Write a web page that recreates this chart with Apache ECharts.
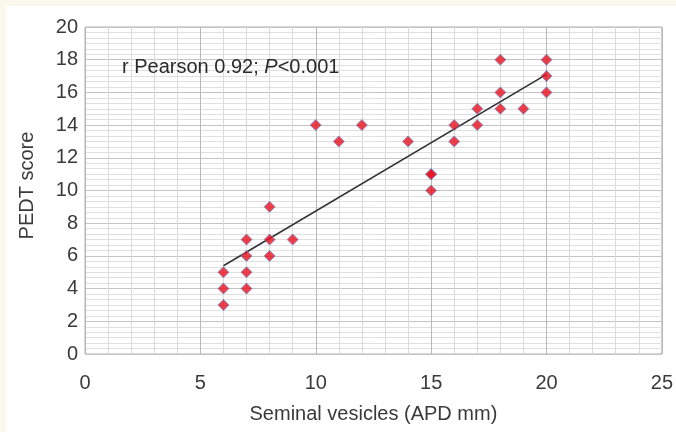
<!DOCTYPE html>
<html>
<head>
<meta charset="utf-8">
<script src="https://cdn.jsdelivr.net/npm/echarts@6/dist/echarts.min.js"></script>
<style>
html,body{margin:0;padding:0;width:676px;height:432px;overflow:hidden;background:#faf8ec;}
#c{position:absolute;left:6px;top:6px;width:670px;height:426px;background:#ffffff;}
</style>
</head>
<body>
<div id="c"></div>
<script>
var xValues = [6, 6, 6, 7, 7, 7, 7, 8, 8, 8, 9, 10, 11, 12, 14, 15, 15, 15, 16, 16, 17, 17, 18, 18, 18, 19, 20, 20, 20];
var yValues = [5, 4, 3, 7, 6, 5, 4, 9, 7, 6, 7, 14, 13, 14, 13, 11, 11, 10, 14, 13, 15, 14, 18, 16, 15, 15, 18, 17, 16];
var trendX = [6, 20];
var trendY = [5.4, 17.1];
var xTitle = 'Seminal vesicles (APD mm)';
var yTitle = 'PEDT score';

var pts = xValues.map(function (x, i) { return [x, yValues[i]]; });
var trend = trendX.map(function (x, i) { return [x, trendY[i]]; });

var chart = echarts.init(document.getElementById('c'), null, {renderer: 'canvas'});
var font = 'Liberation Sans, Arial, sans-serif';
chart.setOption({
  animation: false,
  grid: {left: 79, right: 10, top: 21, bottom: 78, show: true, borderColor: '#b0b0b0', borderWidth: 1},
  xAxis: {
    type: 'value', min: 0, max: 25, interval: 5,
    name: xTitle, nameLocation: 'middle', nameGap: 50,
    nameTextStyle: {fontFamily: font, fontSize: 20, color: '#3a3a3a'},
    axisLine: {show: false}, axisTick: {show: false},
    axisLabel: {fontFamily: font, fontSize: 20, color: '#3a3a3a', margin: 19},
    splitLine: {show: true, lineStyle: {color: '#b8b8b8', width: 1}},
    minorTick: {show: false, splitNumber: 5},
    minorSplitLine: {show: true, lineStyle: {color: '#dadada', width: 1}}
  },
  yAxis: {
    type: 'value', min: 0, max: 20, interval: 2,
    name: yTitle, nameLocation: 'middle', nameGap: 48, nameRotate: 90,
    nameTextStyle: {fontFamily: font, fontSize: 20, color: '#3a3a3a', padding: [0, 0, 0, 10]},
    axisLine: {show: false}, axisTick: {show: false},
    axisLabel: {fontFamily: font, fontSize: 20, color: '#3a3a3a', margin: 7},
    splitLine: {show: true, lineStyle: {color: '#c4c4c4', width: 1}},
    minorTick: {show: false, splitNumber: 6},
    minorSplitLine: {show: true, lineStyle: {color: '#e0e0e0', width: 1}}
  },
  series: [
    {
      type: 'line', data: trend, symbol: 'none', z: 2,
      lineStyle: {color: '#333333', width: 1.6}
    },
    {
      type: 'scatter', data: pts, symbol: 'diamond', symbolSize: 11, z: 3,
      itemStyle: {color: '#e8101e', borderColor: '#7888c0', borderWidth: 1}
    }
  ],
  graphic: [{
    type: 'text', left: 116, top: 51, z: 100,
    style: {
      text: '{n|r Pearson 0.92; }{i|P}{n|<0.001}',
      rich: {
        n: {fontFamily: font, fontSize: 20, fill: '#2a2a2a'},
        i: {fontFamily: font, fontSize: 20, fontStyle: 'italic', fill: '#2a2a2a'}
      }
    }
  }]
});
</script>
</body>
</html>
